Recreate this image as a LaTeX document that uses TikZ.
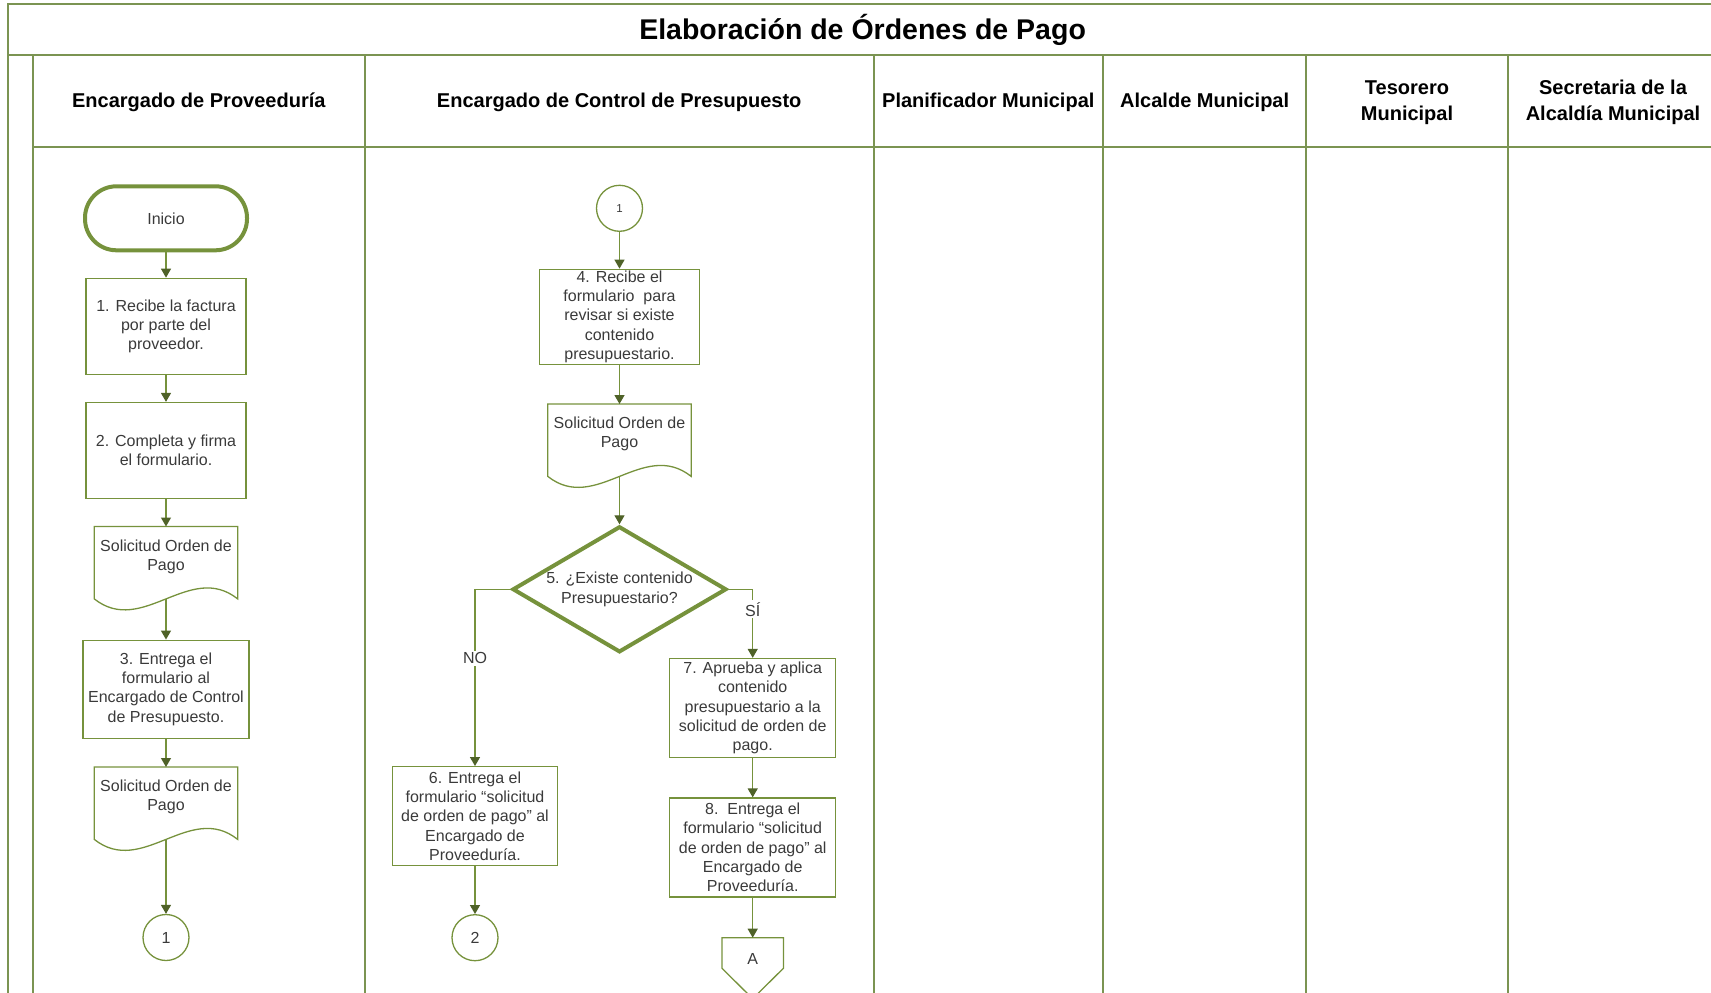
\documentclass[tikz,border=0pt]{standalone}
\usepackage{fontspec}
\setmainfont{Liberation Sans}
\usetikzlibrary{arrows.meta,calc,positioning,shapes.geometric}
\definecolor{linegreen}{HTML}{76923C}
\definecolor{tipgreen}{HTML}{4F6228}
\definecolor{lanegreen}{HTML}{7B9452}
\definecolor{txt}{HTML}{3A3A3A}
% document symbol: name, top centre, text
\newcommand{\docu}[3]{%
  \node[docbox] (#1) at #2 {#3};
  \draw[docline] (#1.north west) -- ($(#1.south west)+(0,12)$)
    .. controls ($(#1.south west)+(48,50)$) and ($(#1.south east)+(-48,-26)$) .. ($(#1.south east)+(0,12)$)
    -- (#1.north east) -- cycle;
  \coordinate (#1-b) at ($(#1.south)+(0,12)$);}

\begin{document}
\begin{tikzpicture}[x=1pt,y=-1pt,
  every node/.style={text=txt},
  frame/.style={draw=lanegreen,line width=2pt},
  title/.style={text=black,font=\fontsize{28.5}{34}\selectfont\bfseries},
  head/.style={text=black,align=center,font=\fontsize{20}{26.5}\selectfont\bfseries},
  proc/.style={draw=linegreen,line width=1.3pt,minimum width=160pt,minimum height=96pt,
    align=center,inner sep=1pt,font=\fontsize{16}{19.3}\selectfont},
  docbox/.style={anchor=north,minimum width=143pt,minimum height=60pt,inner sep=1pt,
    align=center,font=\fontsize{16}{19.3}\selectfont},
  docline/.style={draw=linegreen,line width=1.3pt},
  start/.style={draw=linegreen,line width=4pt,rounded corners=31.5pt,minimum width=162pt,
    minimum height=64pt,font=\fontsize{16}{19.3}\selectfont},
  decision/.style={diamond,aspect=1.72,draw=linegreen,line width=4pt,minimum width=214pt,
    minimum height=126pt,inner sep=-8pt,align=center,font=\fontsize{16}{19.3}\selectfont},
  conn/.style={circle,draw=linegreen,line width=1.3pt,minimum size=46pt,inner sep=0pt,
    font=\fontsize{16}{19.3}\selectfont},
  offpage/.style={anchor=north,minimum width=61pt,minimum height=42pt,inner sep=0pt,
    font=\fontsize{16}{19.3}\selectfont},
  flow/.style={draw=linegreen,line width=1.3pt,
    -{Triangle[length=9pt,width=10pt,color=tipgreen,fill=tipgreen]}},
  lbl/.style={fill=white,inner sep=2pt,font=\fontsize{16}{19.3}\selectfont}]
\useasboundingbox (0,0) rectangle (1711,993);

% swimlane frame
\draw[frame] (1725,4.3) -- (8,4.3) -- (8,1000);
\draw[frame] (8,55) -- (1725,55);
\draw[frame] (33,55) -- (33,1000);
\draw[frame] (33,147) -- (1725,147);
\foreach \x in {364.7,873.7,1103,1306.3,1507.7}
  \draw[frame] (\x,55) -- (\x,1000);

\node[title] (ttl) at (862.6,29.7) {Elaboración de Órdenes de Pago};
\node[head] (h1) at (198.8,102.5) {Encargado de Proveeduría};
\node[head] (h2) at (619.2,102.5) {Encargado de Control de Presupuesto};
\node[head] (h3) at (988.3,102.5) {Planificador Municipal};
\node[head] (h4) at (1204.7,102.5) {Alcalde Municipal};
\node[head] (h5) at (1407,102.5) {Tesorero\\Municipal};
\node[head] (h6) at (1613,102.5) {Secretaria de la\\Alcaldía Municipal};

% Encargado de Proveeduria
\node[start] (ini) at (166,218.3) {Inicio};
\node[proc] (p1) at (166,326.3) {1. Recibe la factura\\por parte del\\proveedor.};
\node[proc] (p2) at (166,450.5) {2. Completa y firma\\el formulario.};
\docu{d1}{(166,526.5)}{Solicitud Orden de\\Pago}
\node[proc,minimum width=166pt,minimum height=98pt] (p3) at (166,689.2)
  {3. Entrega el\\formulario al\\Encargado de Control\\de Presupuesto.};
\docu{d2}{(166,767)}{Solicitud Orden de\\Pago}
\node[conn] (c1) at (166,937.5) {1};

\draw[flow] (ini.south) -- (p1.north);
\draw[flow] (p1.south) -- (p2.north);
\draw[flow] (p2.south) -- (d1.north);
\draw[flow] (d1-b) -- (p3.north);
\draw[flow] (p3.south) -- (d2.north);
\draw[flow] (d2-b) -- (c1.north);

% Encargado de Control de Presupuesto
\node[conn,font=\fontsize{11.5}{13}\selectfont] (c1b) at (619.5,208.3) {1};
\node[proc,minimum height=95pt] (p4) at (619.5,316.8)
  {4. Recibe el\\formulario\ \ para\\revisar si existe\\contenido\\presupuestario.};
\docu{d3}{(619.5,404)}{Solicitud Orden de\\Pago}
\node[decision] (q5) at (619.5,589.3) {5. ¿Existe contenido\\Presupuestario?};
\node[proc,minimum width=165pt,minimum height=99pt] (p6) at (475,816.2)
  {6. Entrega el\\formulario “solicitud\\de orden de pago” al\\Encargado de\\Proveeduría.};
\node[conn] (c2) at (475,937.7) {2};
\node[proc,minimum width=166pt,minimum height=99pt] (p7) at (752.7,708)
  {7. Aprueba y aplica\\contenido\\presupuestario a la\\solicitud de orden de\\pago.};
\node[proc,minimum width=166pt,minimum height=99pt] (p8) at (752.7,847.5)
  {8.\ \ Entrega el\\formulario “solicitud\\de orden de pago” al\\Encargado de\\Proveeduría.};
\node[offpage] (pA) at (752.7,937.7) {A};
\draw[docline] (pA.north west) -- (pA.north east) -- ($(pA.north east)+(0,30.6)$)
  -- ($(pA.north)+(0,61)$) -- ($(pA.north west)+(0,30.6)$) -- cycle;

\draw[flow] (c1b.south) -- (p4.north);
\draw[flow] (p4.south) -- (d3.north);
\draw[flow] (d3-b) -- (q5.north);
\draw[flow] (q5.west) -| (p6.north) node[lbl,pos=0.695] (no) {NO};
\draw[flow] (q5.east) -| (p7.north) node[lbl,pos=0.645] (si) {SÍ};
\draw[flow] (p6.south) -- (c2.north);
\draw[flow] (p7.south) -- (p8.north);
\draw[flow] (p8.south) -- (pA.north);
\end{tikzpicture}
\end{document}
